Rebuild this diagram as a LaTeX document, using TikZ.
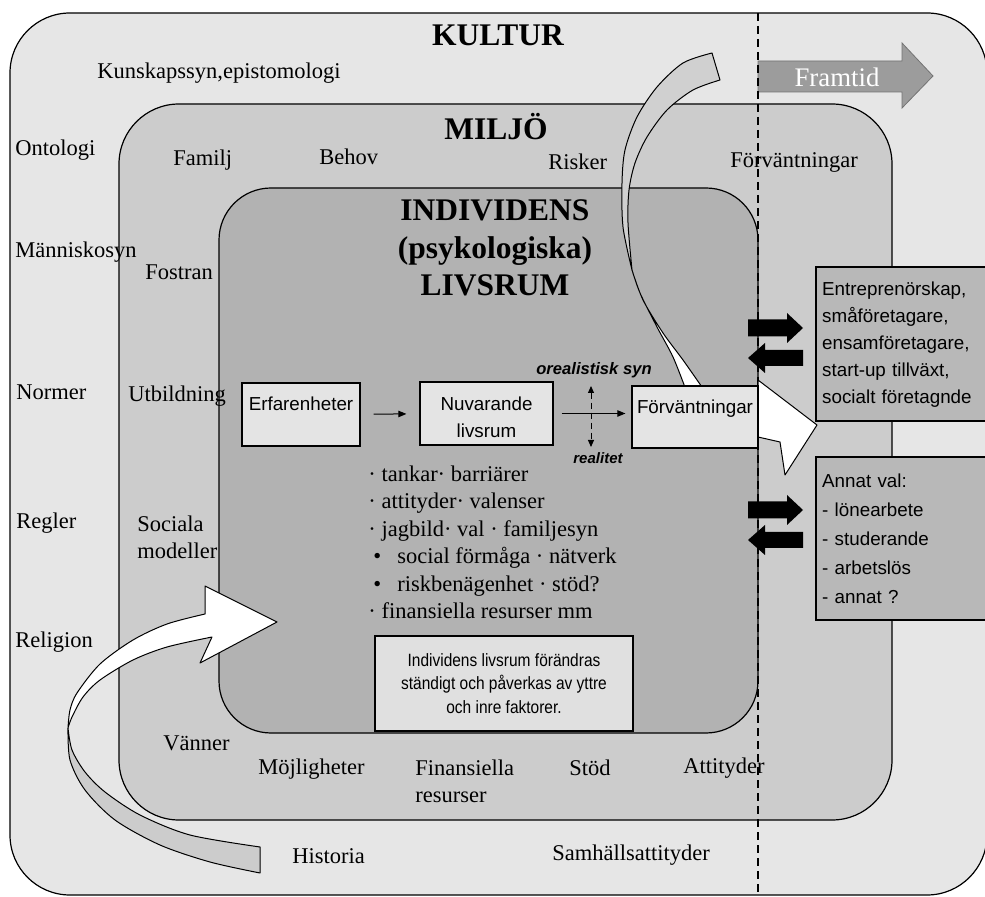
\documentclass[tikz,border=0pt]{standalone}
\usepackage{fontspec}
\setmainfont{Liberation Serif}
\setsansfont{Liberation Sans}
\newfontfamily\narrowsans[FakeStretch=0.87]{Liberation Sans}
\usetikzlibrary{arrows.meta}
\definecolor{kulturcolor}{HTML}{E6E6E6}
\definecolor{miljocolor}{HTML}{CCCCCC}
\definecolor{livsrumcolor}{HTML}{B2B2B2}
\definecolor{boxcolor}{HTML}{E4E4E4}
\definecolor{valcolor}{HTML}{B8B8B8}
\definecolor{bandcolor}{HTML}{D0D0D0}
\definecolor{framtidcolor}{HTML}{9C9C9C}
\tikzset{
  lbl/.style={inner sep=0pt, anchor=west, font=\fontsize{11.25}{13.5}\selectfont},
  rubrik/.style={inner sep=0pt, align=center, font=\fontsize{15.75}{18.75}\selectfont\bfseries},
  flowbox/.style={draw, line width=0.6pt, fill=boxcolor, inner sep=0pt, font=\sffamily\fontsize{9.4}{13.5}\selectfont},
  topbox/.style={text height=7pt, text depth=10.5pt},
  valbox/.style={draw, line width=1.2pt, fill=valcolor, anchor=north west, align=left, text width=82pt, inner xsep=3pt, inner ysep=0pt, font=\sffamily\fontsize{9.4}{13.5}\selectfont},
  flowarrow/.style={-{Triangle[length=4pt,width=3.2pt]}, line width=0.5pt},
  band/.style={draw, line width=0.5pt, line join=round},
}

\begin{document}
\begin{tikzpicture}[x=0.5pt, y=-0.5pt]
  \useasboundingbox (0,0) rectangle (985,897);
  % kultur, miljo, livsrum
  \filldraw[fill=kulturcolor, line width=0.6pt, rounded corners=30pt] (10,13) rectangle (987,895);
  \filldraw[fill=miljocolor, line width=0.6pt, rounded corners=30pt] (119,104) rectangle (892,820);
  \filldraw[fill=livsrumcolor, line width=0.6pt, rounded corners=26pt] (219,188) rectangle (758,733);
  % framtid
  \filldraw[fill=framtidcolor, draw=black!55, line width=0.4pt] (758,61) -- (902,61) -- (902,43) -- (933,76) -- (902,108) -- (902,92) -- (758,92) -- cycle;
  \node[inner sep=0pt, text=white, font=\fontsize{13.4}{15}\selectfont] (framtid) at (837,77) {Framtid};
  \draw[dash pattern=on 4pt off 2.5pt, line width=0.6pt] (758,13) -- (758,895);
  % band from historia
  \filldraw[band, fill=miljocolor] plot[smooth] coordinates {(68,728) (72,750) (85,772) (105,792) (140,815) (190,835) (260,847)} -- (260,873) -- plot[smooth] coordinates {(260,873) (210,862) (160,845) (115,820) (85,790) (70,760) (68,728)} -- cycle;
  \filldraw[band, fill=white] plot[smooth] coordinates {(68,728) (70,710) (77,693) (100,664) (133,640) (167,624) (205,614)} -- (205,586) -- (277,622) -- (200,663) -- (212,637) -- plot[smooth] coordinates {(212,637) (167,647) (133,660) (100,680) (83,697) (72,717) (68,728)} -- cycle;
  % band towards framtid
  \filldraw[band, fill=bandcolor] plot[smooth] coordinates {(712,53) (683,63) (657,87) (637,117) (625,150) (622,183) (623,227) (632,270)} -- plot[smooth] coordinates {(632,270) (628,223) (629,190) (635,163) (647,137) (667,110) (693,90) (720,80)} -- cycle;
  \filldraw[band, fill=white] plot[smooth] coordinates {(632,270) (640,293) (657,327) (673,357) (686,390)} -- (704,390) -- plot[smooth] coordinates {(704,390) (683,360) (663,333) (643,300) (632,270)} -- cycle;
  \filldraw[band, fill=white] (758,380) -- (817,425) -- (785,475) -- (780,442) -- (758,437) -- cycle;
  % titles
  \node[rubrik] (kultur) at (498,35) {KULTUR};
  \node[rubrik] (miljo) at (496,127) {MILJÖ};
  \node[rubrik] (livsrum) at (495,248) {INDIVIDENS\\(psykologiska)\\LIVSRUM};
  % kultur labels
  \node[lbl] (kunskap) at (97,73) {Kunskapssyn,epistomologi};
  \node[lbl] (ontologi) at (15,150) {Ontologi};
  \node[lbl] (manniska) at (15,252) {Människosyn};
  \node[lbl] (normer) at (16,392) {Normer};
  \node[lbl] (regler) at (16,523) {Regler};
  \node[lbl] (religion) at (15,642) {Religion};
  \node[lbl] (historia) at (292,856) {Historia};
  \node[lbl] (samhalle) at (552,855) {Samhällsattityder};
  % miljo labels
  \node[lbl] (familj) at (173,160) {Familj};
  \node[lbl] (behov) at (319,157) {Behov};
  \node[lbl] (risker) at (548,162) {Risker};
  \node[lbl] (forvmiljo) at (730,162) {Förväntningar};
  \node[lbl] (fostran) at (145,272) {Fostran};
  \node[lbl] (utbildning) at (128,396) {Utbildning};
  \node[lbl, align=left] (sociala) at (137,537) {Sociala\\modeller};
  \node[lbl] (vanner) at (163,743) {Vänner};
  \node[lbl] (mojlig) at (258,769) {Möjligheter};
  \node[lbl, align=left] (finans) at (415,781) {Finansiella\\resurser};
  \node[lbl] (stod) at (569,768) {Stöd};
  \node[lbl] (attityd) at (683,768) {Attityder};
  % flow inside livsrum
  \node[flowbox, topbox, minimum width=59pt, minimum height=31.5pt] (erf) at (301,414.5) {Erfarenheter};
  \node[flowbox, text height=18.5pt, text depth=8.5pt, minimum width=66.5pt, minimum height=31.5pt] (nuv) at (486.5,413.5) {\begin{tabular}{@{}c@{}}Nuvarande\\livsrum\end{tabular}};
  \node[flowbox, topbox, minimum width=63pt, minimum height=31pt] (forv) at (695,417) {Förväntningar};
  \draw[flowarrow, shorten <=6.5pt, shorten >=6.5pt] (erf) -- (nuv);
  \draw[flowarrow, shorten <=4pt, shorten >=3pt] (nuv.east) -- (nuv.east -| forv.west);
  \node[inner sep=0pt, font=\sffamily\bfseries\itshape\fontsize{8.3}{10}\selectfont] (oreal) at (594,370) {orealistisk syn};
  \node[inner sep=0pt, font=\sffamily\bfseries\itshape\fontsize{7.5}{9}\selectfont] (realitet) at (598,458) {realitet};
  \coordinate (synup) at (591,386);
  \coordinate (syndown) at (591,447);
  \draw[{Triangle[length=3.5pt,width=3pt]}-{Triangle[length=3.5pt,width=3pt]}, dash pattern=on 3pt off 2pt, line width=0.5pt] (synup) -- (syndown);
  \node[inner sep=0pt, anchor=north west, align=left, font=\fontsize{11.25}{13.75}\selectfont] (faktorer) at (368,465) {· tankar· barriärer\\· attityder· valenser\\· jagbild· val · familjesyn\\\hspace*{2.5pt}•\hspace{8pt}social förmåga · nätverk\\\hspace*{2.5pt}•\hspace{8pt}riskbenägenhet · stöd?\\· finansiella resurser mm};
  \node[draw, line width=0.9pt, fill=black!12, inner sep=0pt, align=center, minimum width=129pt, minimum height=47.5pt, font=\narrowsans\fontsize{8.9}{11.75}\selectfont] (note) at (504,683.5) {Individens livsrum förändras\\ständigt och påverkas av yttre\\och inre faktorer.};
  % choices beyond the line
  \node[valbox, minimum height=77pt] (entre) at (815,266) {Entreprenörskap,\\småföretagare,\\ensamföretagare,\\start-up tillväxt,\\socialt företagnde};
  \node[valbox, minimum height=81.5pt] (annat) at (815,456) {Annat val:\\[1pt]- lönearbete\\[1pt]- studerande\\[1pt]- arbetslös\\[1pt]- annat ?};
  \foreach \yy in {328,510} {
    \fill (748,\yy-8.5) -- (787,\yy-8.5) -- (787,\yy-15) -- (803,\yy) -- (787,\yy+15) -- (787,\yy+8.5) -- (748,\yy+8.5) -- cycle;
    \fill (803,\yy+22) -- (765,\yy+22) -- (765,\yy+15) -- (748,\yy+30) -- (765,\yy+45) -- (765,\yy+38) -- (803,\yy+38) -- cycle;
  }
\end{tikzpicture}
\end{document}
